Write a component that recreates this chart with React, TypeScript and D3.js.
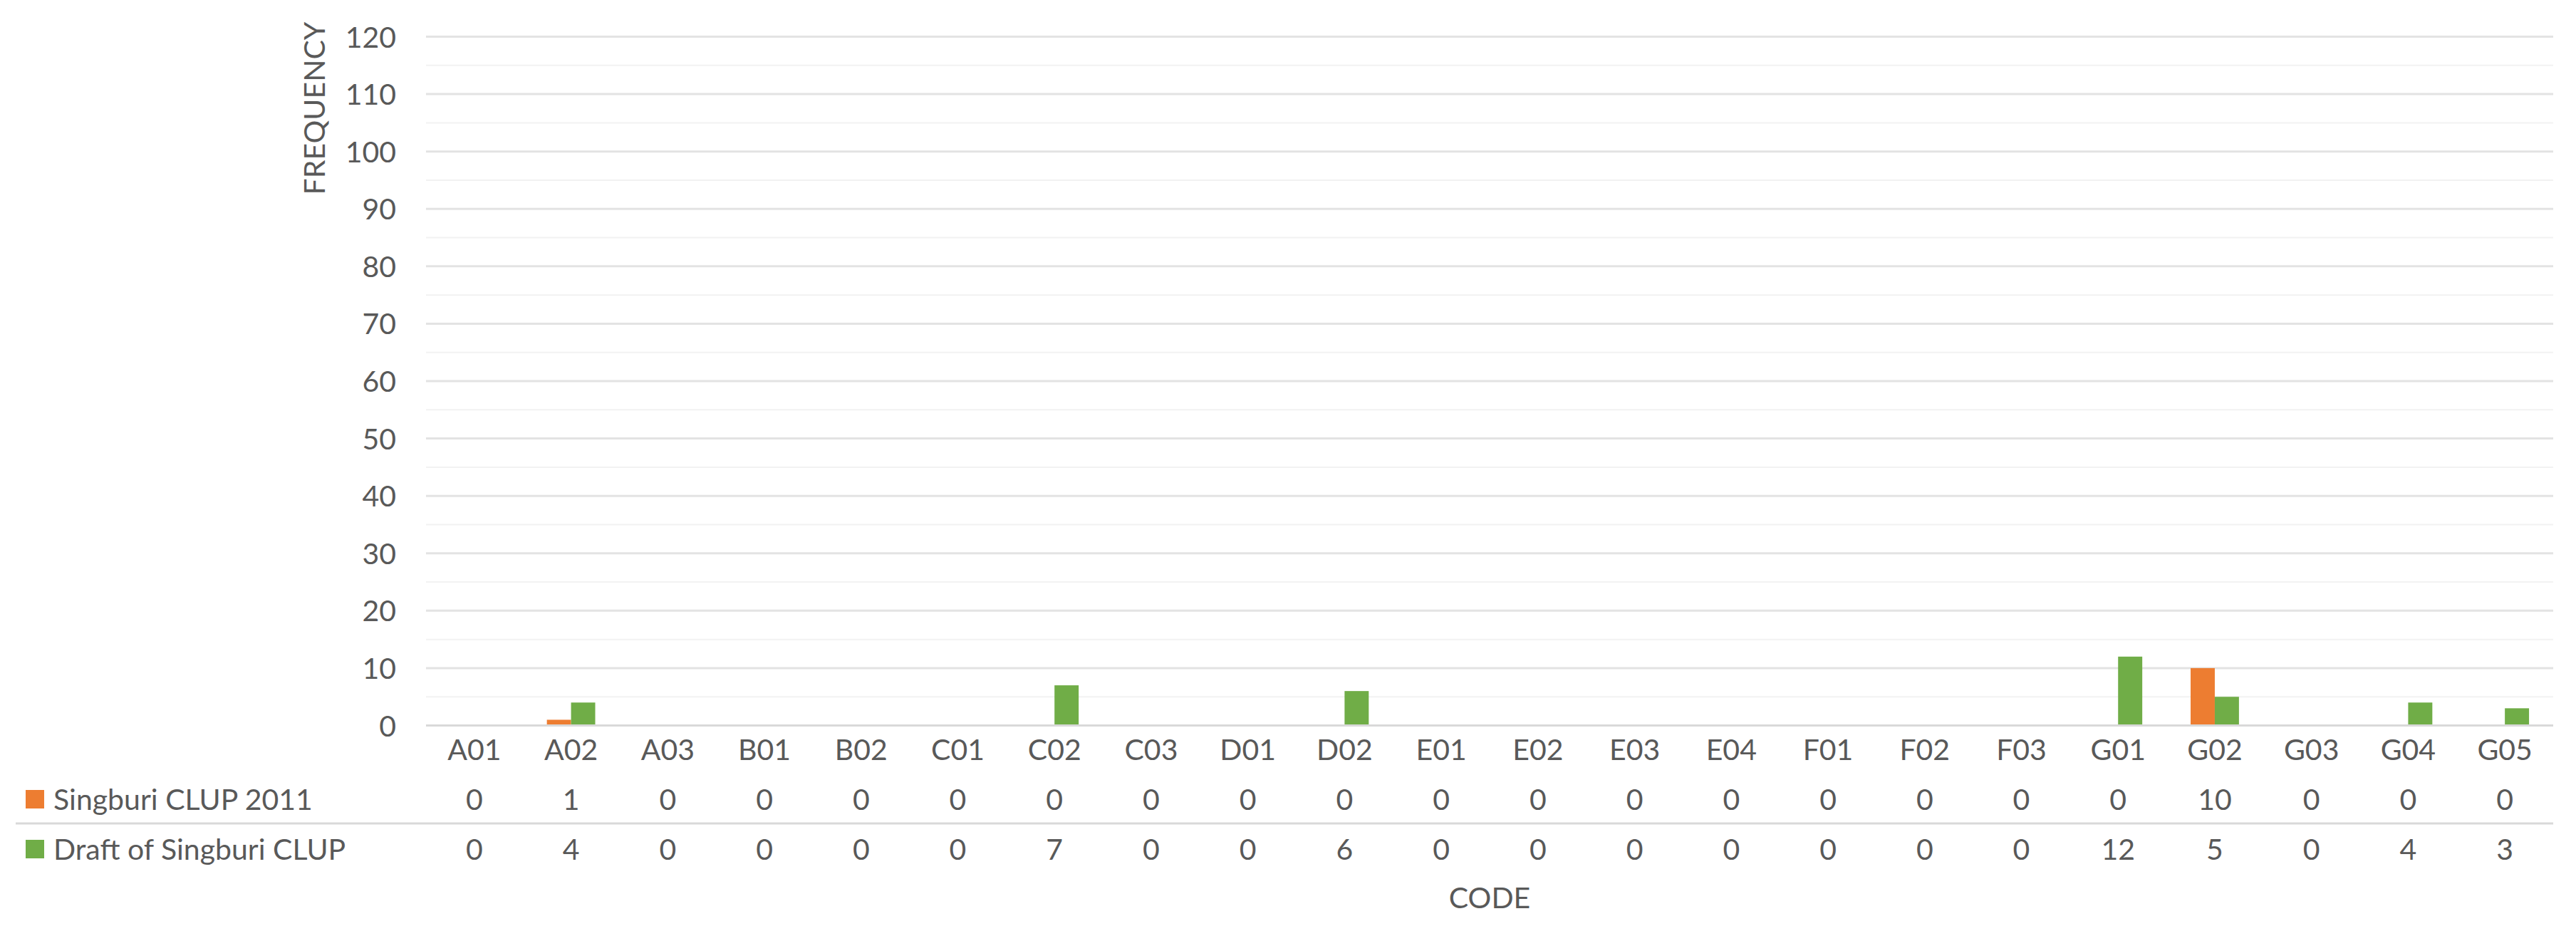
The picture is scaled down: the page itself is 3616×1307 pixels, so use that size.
import React from "react";
import * as d3 from "d3";

const categories = ["A01","A02","A03","B01","B02","C01","C02","C03","D01","D02","E01","E02","E03","E04","F01","F02","F03","G01","G02","G03","G04","G05"];
const seriesNames = ["Singburi CLUP 2011", "Draft of Singburi CLUP"];
const singburi2011 = [0,1,0,0,0,0,0,0,0,0,0,0,0,0,0,0,0,0,10,0,0,0];
const draftSingburi = [0,4,0,0,0,0,7,0,0,6,0,0,0,0,0,0,0,12,5,0,4,3];
const yTicks = [0,10,20,30,40,50,60,70,80,90,100,110,120];
const yMinorTicks = [5,15,25,35,45,55,65,75,85,95,105,115];
const seriesColors = ["#ED7D31", "#70AD47"];

const W = 3616, H = 1307;
const PL = 598, PR = 3584, PT = 51.5, PB = 1018.5;
const FONT = "Lato, 'Open Sans', sans-serif";
const TXT = "#595959";
const FS = 41;

export default function App() {
  const x = d3.scaleBand<string>().domain(categories).range([PL, PR]).paddingInner(0).paddingOuter(0);
  const y = d3.scaleLinear().domain([0, 120]).range([PB, PT]);
  const band = x.bandwidth();
  const barW = band * 0.25;
  const series = [singburi2011, draftSingburi];
  const rowY = [1137, 1207];

  return (
    <svg width={W} height={H} style={{ position: "absolute", left: 0, top: 0, background: "#fff" }} fontFamily={FONT}>
      <rect x={0} y={0} width={W} height={H} fill="#fff" />
      {yMinorTicks.map((t) => (
        <line key={"m" + t} x1={PL} x2={PR} y1={y(t)} y2={y(t)} stroke="#f2f2f2" strokeWidth={2} />
      ))}
      {yTicks.map((t) => (
        <line key={"g" + t} x1={PL} x2={PR} y1={y(t)} y2={y(t)} stroke="#e3e3e3" strokeWidth={3} />
      ))}
      {yTicks.map((t) => (
        <text key={"t" + t} x={556} y={y(t) + 15} textAnchor="end" fontSize={FS} fill={TXT}>{t}</text>
      ))}
      <text transform={`translate(456,152) rotate(-90)`} textAnchor="middle" fontSize={FS} fill={TXT}>FREQUENCY</text>

      {series.map((vals, si) =>
        vals.map((v, i) => {
          const cx = (x(categories[i]) as number) + band / 2;
          const bx = si === 0 ? cx - barW : cx;
          return v > 0 ? (
            <rect key={`b${si}-${i}`} x={bx} y={y(v)} width={barW} height={y(0) - y(v)} fill={seriesColors[si]} />
          ) : null;
        })
      )}
      <line x1={PL} x2={PR} y1={y(0)} y2={y(0)} stroke="#d9d9d9" strokeWidth={3} />

      {categories.map((c) => (
        <text key={"x" + c} x={(x(c) as number) + band / 2} y={1067} textAnchor="middle" fontSize={FS} fill={TXT}>{c}</text>
      ))}

      {series.map((vals, si) => (
        <g key={"row" + si}>
          <rect x={36} y={rowY[si] - 28} width={26} height={26} fill={seriesColors[si]} />
          <text x={75} y={rowY[si]} fontSize={FS} fill={TXT}>{seriesNames[si]}</text>
          {vals.map((v, i) => (
            <text key={`r${si}-${i}`} x={(x(categories[i]) as number) + band / 2} y={rowY[si]} textAnchor="middle" fontSize={FS} fill={TXT}>{v}</text>
          ))}
        </g>
      ))}
      <line x1={22} x2={PR} y1={1156} y2={1156} stroke="#d9d9d9" strokeWidth={3} />

      <text x={(PL + PR) / 2} y={1275} textAnchor="middle" fontSize={FS} fill={TXT}>CODE</text>
    </svg>
  );
}
